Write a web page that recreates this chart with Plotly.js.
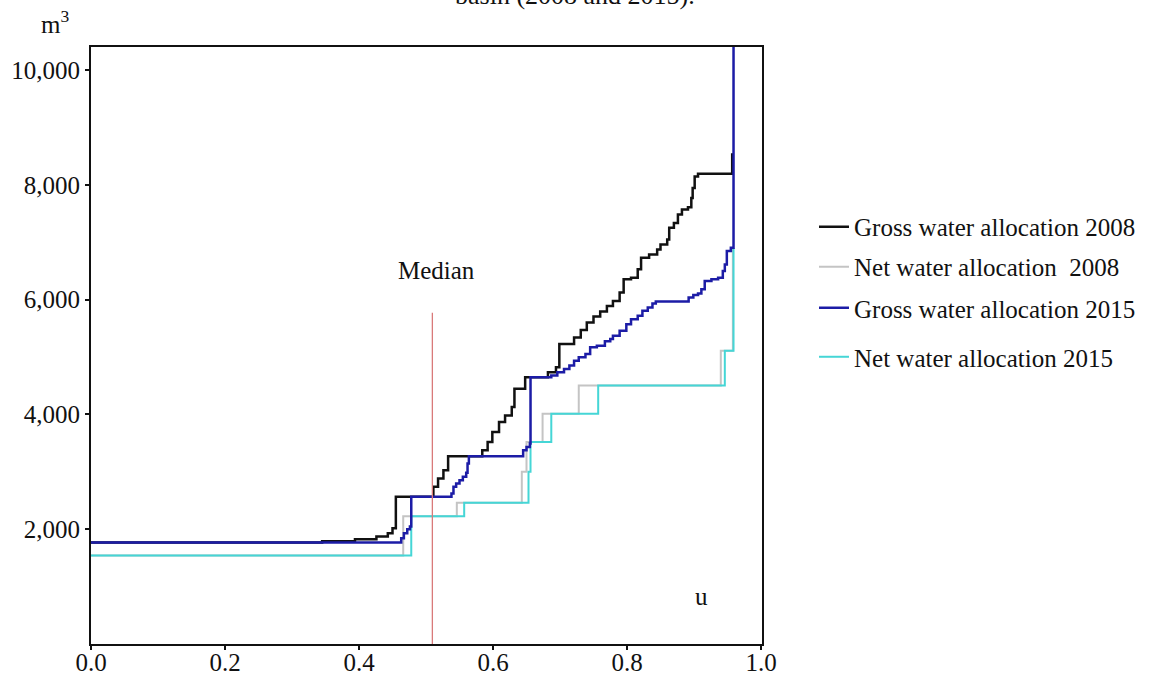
<!DOCTYPE html>
<html>
<head>
<meta charset="utf-8">
<script src="https://cdn.plot.ly/plotly-3.0.1.min.js"></script>
<style>
  html, body { margin: 0; padding: 0; background: #ffffff; }
  #chart { width: 1153px; height: 676px; }
</style>
</head>
<body>
<div id="chart"></div>
<script>
// ---- Data ----
const seriesNames = [
  "Gross water allocation 2008",
  "Net water allocation  2008",
  "Gross water allocation 2015",
  "Net water allocation 2015"
];

// Gross water allocation 2008 (black)
const grossU2008 = [0, 0.345, 0.394, 0.426, 0.443, 0.450, 0.455, 0.511, 0.518, 0.526, 0.533,
  0.584, 0.592, 0.599, 0.609, 0.618, 0.628, 0.632, 0.648, 0.682, 0.694, 0.699, 0.721, 0.731,
  0.740, 0.750, 0.760, 0.770, 0.779, 0.789, 0.795, 0.806, 0.816, 0.821, 0.833, 0.845, 0.850,
  0.860, 0.863, 0.870, 0.876, 0.882, 0.891, 0.896, 0.898, 0.901, 0.906, 0.957];
const grossV2008 = [1770, 1790, 1825, 1871, 1929, 2016, 2565, 2739, 2883, 3028, 3270,
  3375, 3519, 3693, 3866, 3982, 4127, 4445, 4647, 4734, 4821, 5225, 5341, 5468,
  5601, 5705, 5792, 5890, 5977, 6122, 6353, 6382, 6527, 6729, 6787, 6874, 6960,
  7047, 7250, 7336, 7481, 7568, 7608, 7770, 7943, 8146, 8190, 8550];

// Net water allocation 2008 (grey)
const netU2008 = [0, 0.466, 0.546, 0.643, 0.650, 0.674, 0.728, 0.940, 0.958];
const netV2008 = [1540, 2225, 2461, 2999, 3520, 4011, 4503, 5110, 6900];

// Gross water allocation 2015 (blue)
const grossU2015 = [0, 0.463, 0.467, 0.472, 0.476, 0.478, 0.538, 0.541, 0.545, 0.550, 0.555,
  0.560, 0.562, 0.564, 0.645, 0.650, 0.655, 0.656, 0.687, 0.696, 0.706, 0.714, 0.721, 0.728,
  0.738, 0.745, 0.755, 0.767, 0.775, 0.779, 0.789, 0.799, 0.806, 0.816, 0.823, 0.831, 0.838,
  0.843, 0.892, 0.899, 0.906, 0.911, 0.916, 0.926, 0.936, 0.943, 0.946, 0.949, 0.955, 0.959];
const grossV2015 = [1770, 1842, 1929, 1998, 2045, 2565, 2623, 2739, 2797, 2854, 2912,
  2982, 3144, 3271, 3375, 3433, 3491, 4647, 4676, 4734, 4792, 4850, 4936, 4994,
  5052, 5168, 5197, 5272, 5312, 5370, 5457, 5572, 5659, 5717, 5804, 5862, 5931,
  5966, 6035, 6081, 6104, 6180, 6324, 6353, 6382, 6498, 6613, 6845, 6903, 10600];

// Net water allocation 2015 (cyan)
const netU2015 = [0, 0.478, 0.557, 0.653, 0.656, 0.687, 0.757, 0.946, 0.959];
const netV2015 = [1540, 2225, 2461, 3000, 3520, 4011, 4503, 5110, 6900];

// Median marker
const medianU = 0.5095;
const medianTop = 5770;

// Axis ticks
const xTickVals = [0, 0.2, 0.4, 0.6, 0.8, 1.0];
const xTickText = ["0.0", "0.2", "0.4", "0.6", "0.8", "1.0"];
const yTickVals = [2000, 4000, 6000, 8000, 10000];
const yTickText = ["2,000", "4,000", "6,000", "8,000", "10,000"];

// ---- Styling ----
const FONT = "Liberation Serif, Times New Roman, serif";
const colBlack = "#111111", colGrey = "#c4c4c4", colBlue = "#1c1ca6", colCyan = "#45d6d6";

function stepTrace(x, y, name, color, width, legend) {
  return {
    type: "scatter", mode: "lines", x: x, y: y, name: name,
    line: { color: color, width: width, shape: "hv" },
    legend: legend, hoverinfo: "skip"
  };
}

const traces = [
  stepTrace(netU2008, netV2008, seriesNames[1], colGrey, 2, "legend2"),
  stepTrace(netU2015, netV2015, seriesNames[3], colCyan, 2, "legend4"),
  stepTrace(grossU2008, grossV2008, seriesNames[0], colBlack, 2.5, "legend"),
  stepTrace(grossU2015, grossV2015, seriesNames[2], colBlue, 2.5, "legend3"),
  {
    type: "scatter", mode: "lines", x: [medianU, medianU], y: [0, medianTop],
    line: { color: "#d97a7a", width: 1.3 }, showlegend: false, hoverinfo: "skip"
  }
];

function legendAt(y) {
  return {
    x: 1.0775, xanchor: "left", y: y, yanchor: "middle",
    bgcolor: "rgba(0,0,0,0)", borderwidth: 0,
    font: { family: FONT, size: 25, color: "#111" }
  };
}

const layout = {
  width: 1153, height: 676,
  paper_bgcolor: "#ffffff", plot_bgcolor: "#ffffff",
  margin: { l: 91, r: 378, t: 47, b: 32, pad: 0 },
  font: { family: FONT, size: 25, color: "#111" },
  showlegend: true,
  legend: legendAt(0.6985),
  legend2: legendAt(0.6315),
  legend3: legendAt(0.5628),
  legend4: legendAt(0.4807),
  xaxis: {
    range: [0, 1.0015], showgrid: false, zeroline: false,
    showline: true, mirror: true, linecolor: "#111", linewidth: 2,
    ticks: "outside", ticklen: 4, tickwidth: 2, tickcolor: "#111",
    tickvals: xTickVals, ticktext: xTickText, ticklabelstandoff: -9,
    tickfont: { family: FONT, size: 25, color: "#111" }
  },
  yaxis: {
    range: [0, 10400], showgrid: false, zeroline: false,
    showline: true, mirror: true, linecolor: "#111", linewidth: 2,
    ticks: "outside", ticklen: 4, tickwidth: 2, tickcolor: "#111",
    tickvals: yTickVals, ticktext: yTickText,
    tickfont: { family: FONT, size: 25, color: "#111" }
  },
  annotations: [
    { xref: "paper", yref: "paper", x: 0.7208, y: 1.087, xanchor: "center", yanchor: "middle",
      text: "basin (2008 and 2015).", showarrow: false, font: { family: FONT, size: 26, color: "#111" } },
    { xref: "paper", yref: "paper", x: -0.054, y: 1.042, xanchor: "center", yanchor: "middle",
      text: "m<sup>3</sup>", showarrow: false, font: { family: FONT, size: 25, color: "#111" } },
    { xref: "x", yref: "y", x: 0.515, y: 6515, xanchor: "center", yanchor: "middle",
      text: "Median", showarrow: false, font: { family: FONT, size: 25, color: "#111" } },
    { xref: "x", yref: "y", x: 0.911, y: 824, xanchor: "center", yanchor: "middle",
      text: "u", showarrow: false, font: { family: FONT, size: 25, color: "#111" } }
  ]
};

Plotly.newPlot("chart", traces, layout, { displayModeBar: false, staticPlot: true });
</script>
</body>
</html>
